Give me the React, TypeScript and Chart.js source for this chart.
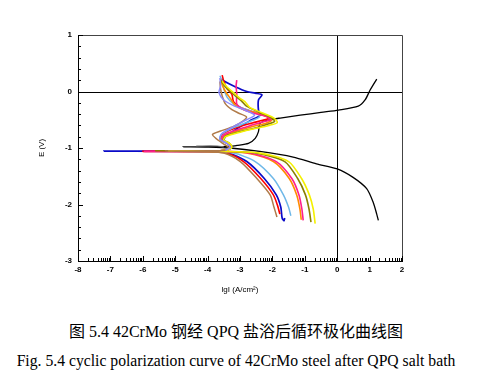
import React, { useEffect, useRef } from 'react';
import { Chart, registerables } from 'chart.js';

Chart.register(...registerables);

// Axis tick values
const xTickValues = [-8, -7, -6, -5, -4, -3, -2, -1, 0, 1, 2];
const yTickValues = [-3, -2, -1, 0, 1];

// Curves: [lgI, E]
const blackCurve: number[][] = [
  [1.27, -2.28], [1.22, -2.17], [1.11, -1.96], [0.91, -1.72], [0.49, -1.52], [0, -1.37],
  [-0.64, -1.28], [-1.36, -1.16], [-2.39, -1.06], [-3.3, -1.0], [-4.0, -0.985], [-4.76, -0.98],
  [-4.0, -0.978], [-3.3, -0.97], [-3.1, -0.955], [-2.74, -0.92], [-2.53, -0.83], [-2.43, -0.71],
  [-2.38, -0.56], [-2.07, -0.5], [-1.76, -0.47], [-1.14, -0.42], [-0.5, -0.37], [0.04, -0.33],
  [0.65, -0.26], [0.86, -0.15], [1.02, 0.03], [1.22, 0.22],
];
const grayCurve: number[][] = [[-4.35, -0.965], [-3.7, -0.965], [-3.5, -0.98]];

const brownCurve: number[][] = [
  [-1.86, -2.22], [-1.95, -2.05], [-2.07, -1.83], [-2.48, -1.54], [-2.99, -1.24], [-3.5, -1.09],
  [-4.0, -1.065], [-5.3, -1.055], [-4.0, -1.05], [-3.45, -1.04], [-3.35, -0.99], [-3.5, -0.93],
  [-3.72, -0.84], [-3.85, -0.76], [-3.6, -0.7], [-3.2, -0.62], [-2.9, -0.52], [-2.8, -0.45],
  [-3.05, -0.38], [-3.25, -0.32], [-3.45, -0.22], [-3.55, -0.08], [-3.6, 0.05], [-3.62, 0.18],
];
const redCurve: number[][] = [
  [-1.77, -2.17], [-1.84, -2.02], [-1.97, -1.83], [-2.36, -1.54], [-2.89, -1.24], [-3.42, -1.09],
  [-4.0, -1.065], [-6.0, -1.06], [-4.0, -1.05], [-3.45, -1.04], [-3.3, -0.99], [-3.38, -0.92],
  [-3.6, -0.86], [-3.55, -0.76], [-3.2, -0.66], [-2.7, -0.57], [-2.3, -0.51], [-2.08, -0.47],
  [-2.25, -0.42], [-2.6, -0.36], [-3.0, -0.28], [-3.2, -0.18], [-3.25, -0.05], [-3.4, 0.05],
  [-3.5, 0.18], [-3.55, 0.29],
];
const blueCurve: number[][] = [
  [-1.62, -2.24], [-1.64, -2.29], [-1.7, -2.24], [-1.74, -2.05], [-1.88, -1.83], [-2.25, -1.54],
  [-2.79, -1.24], [-3.35, -1.09], [-4.0, -1.06], [-7.2, -1.055], [-4.0, -1.05], [-3.45, -1.04],
  [-3.25, -0.99], [-3.35, -0.93], [-3.5, -0.88], [-3.45, -0.8], [-3.1, -0.66], [-2.7, -0.52],
  [-2.38, -0.42], [-2.43, -0.33], [-2.43, -0.15], [-2.32, -0.06], [-2.53, -0.03], [-2.79, 0.0],
  [-3.15, 0.085], [-3.51, 0.19], [-3.55, 0.22],
];
const lightBlueCurve: number[][] = [
  [-1.43, -2.2], [-1.5, -2.05], [-1.66, -1.83], [-1.97, -1.54], [-2.53, -1.24], [-3.2, -1.09],
  [-4.0, -1.06], [-5.0, -1.055], [-4.0, -1.05], [-3.45, -1.04], [-3.3, -0.99], [-3.4, -0.92],
  [-3.62, -0.86], [-3.58, -0.76], [-3.2, -0.64], [-2.75, -0.54], [-2.4, -0.45], [-2.5, -0.38],
  [-2.9, -0.3], [-3.2, -0.22], [-3.4, -0.1], [-3.5, 0.05], [-3.55, 0.18], [-3.62, 0.28],
];
const orangeCurve: number[][] = [
  [-1.11, -2.27], [-1.15, -2.08], [-1.25, -1.83], [-1.48, -1.54], [-1.97, -1.24], [-2.8, -1.09],
  [-3.6, -1.06], [-5.6, -1.055], [-4.0, -1.05], [-3.45, -1.04], [-3.28, -0.99], [-3.35, -0.92],
  [-3.58, -0.86], [-3.5, -0.78], [-3.05, -0.69], [-2.55, -0.61], [-2.2, -0.56], [-2.02, -0.51],
  [-2.15, -0.45], [-2.5, -0.38], [-2.9, -0.32], [-3.15, -0.24], [-3.3, -0.12], [-3.45, 0.0],
  [-3.55, 0.12], [-3.6, 0.22],
];
const pinkCurve: number[][] = [
  [-1.05, -2.28], [-1.09, -2.08], [-1.18, -1.83], [-1.4, -1.54], [-1.88, -1.24], [-2.7, -1.09],
  [-3.6, -1.06], [-5.95, -1.06], [-4.0, -1.05], [-3.45, -1.04], [-3.28, -0.98], [-3.36, -0.92],
  [-3.56, -0.85], [-3.5, -0.77], [-3.1, -0.68], [-2.6, -0.59], [-2.25, -0.53], [-2.05, -0.5],
  [-2.2, -0.44], [-2.6, -0.38], [-2.95, -0.3], [-3.1, -0.22], [-3.1, -0.05], [-3.12, 0.1],
  [-3.1, 0.2],
];
const oliveCurve: number[][] = [
  [-0.81, -2.31], [-0.87, -2.08], [-0.98, -1.83], [-1.22, -1.54], [-1.62, -1.24], [-2.5, -1.09],
  [-3.6, -1.06], [-5.6, -1.05], [-4.0, -1.05], [-3.45, -1.04], [-3.25, -0.99], [-3.32, -0.92],
  [-3.52, -0.85], [-3.45, -0.79], [-3.0, -0.71], [-2.5, -0.64], [-2.15, -0.58], [-1.93, -0.53],
  [-2.05, -0.46], [-2.4, -0.37], [-2.8, -0.26], [-2.95, -0.17], [-3.1, -0.1], [-3.3, 0.0],
  [-3.45, 0.08], [-3.6, 0.2],
];
const yellowCurve: number[][] = [
  [-0.68, -2.34], [-0.74, -2.08], [-0.86, -1.83], [-1.1, -1.54], [-1.5, -1.24], [-2.38, -1.09],
  [-3.6, -1.06], [-5.2, -1.05], [-4.0, -1.05], [-3.45, -1.04], [-3.25, -0.99], [-3.3, -0.93],
  [-3.5, -0.86], [-3.45, -0.8], [-3.0, -0.72], [-2.5, -0.65], [-2.1, -0.6], [-1.85, -0.55],
  [-1.95, -0.47], [-2.3, -0.38], [-2.7, -0.28], [-2.85, -0.18], [-3.0, -0.12], [-3.2, -0.02],
  [-3.4, 0.08], [-3.55, 0.18],
];
const lavenderCurve: number[][] = [
  [-3.45, -1.04], [-3.3, -0.99], [-3.4, -0.92], [-3.62, -0.84], [-3.55, -0.74], [-3.2, -0.62],
  [-2.8, -0.5], [-2.55, -0.42], [-2.8, -0.34], [-3.2, -0.25], [-3.5, -0.15], [-3.65, -0.02],
  [-3.6, 0.1], [-3.62, 0.24],
];

const seriesList = [
  { name: 'gray', data: grayCurve, color: '#707070', width: 1.2 },
  { name: 'lavender', data: lavenderCurve, color: '#8a8aff', width: 1.5 },
  { name: 'brown', data: brownCurve, color: '#b07a48', width: 1.5 },
  { name: 'yellow', data: yellowCurve, color: '#f4f000', width: 1.6 },
  { name: 'olive', data: oliveCurve, color: '#8a8000', width: 1.6 },
  { name: 'pink', data: pinkCurve, color: '#ff1f8a', width: 1.6 },
  { name: 'orange', data: orangeCurve, color: '#ff8a00', width: 1.6 },
  { name: 'lightblue', data: lightBlueCurve, color: '#6fb8e8', width: 1.5 },
  { name: 'red', data: redCurve, color: '#ff0000', width: 1.6 },
  { name: 'blue', data: blueCurve, color: '#0a0ac8', width: 1.7 },
  { name: 'black', data: blackCurve, color: '#000000', width: 1.3 },
];

const framePlugin = {
  id: 'framePlugin',
  beforeDatasetsDraw(chart: any) {
    const { ctx, chartArea, scales } = chart;
    const { left, right, top, bottom } = chartArea;
    const x0 = Math.round(scales.x.getPixelForValue(0)) + 0.5;
    const y0 = Math.round(scales.y.getPixelForValue(0)) + 0.5;
    ctx.save();
    ctx.strokeStyle = '#000';
    ctx.lineWidth = 1;
    ctx.beginPath();
    ctx.moveTo(x0, top);
    ctx.lineTo(x0, bottom);
    ctx.moveTo(left, y0);
    ctx.lineTo(right, y0);
    ctx.stroke();
    ctx.restore();
  },
  afterDatasetsDraw(chart: any) {
    const { ctx, chartArea, scales } = chart;
    const { left, right, top, bottom } = chartArea;
    ctx.save();
    ctx.lineWidth = 1;
    ctx.strokeStyle = '#444';
    ctx.beginPath();
    ctx.moveTo(left, top + 0.5);
    ctx.lineTo(right + 0.5, top + 0.5);
    ctx.lineTo(right + 0.5, bottom);
    ctx.stroke();
    ctx.strokeStyle = '#000';
    ctx.beginPath();
    ctx.moveTo(left + 0.5, top);
    ctx.lineTo(left + 0.5, bottom + 0.5);
    ctx.lineTo(right + 1, bottom + 0.5);
    // x ticks (log-style minor ticks)
    for (let i = 0; i < xTickValues.length; i++) {
      const d = xTickValues[i];
      const px = Math.round(scales.x.getPixelForValue(d)) + 0.5;
      ctx.moveTo(px, bottom);
      ctx.lineTo(px, bottom - 5);
      if (i < xTickValues.length - 1) {
        for (let k = 2; k <= 9; k++) {
          const mx = Math.round(scales.x.getPixelForValue(d + Math.log10(k))) + 0.5;
          ctx.moveTo(mx, bottom);
          ctx.lineTo(mx, bottom - 3);
        }
      }
    }
    // y ticks
    for (let j = 0; j <= 20; j++) {
      const v = -3 + j * 0.2;
      const py = Math.round(scales.y.getPixelForValue(v)) + 0.5;
      const len = j % 5 === 0 ? 5 : 3;
      ctx.moveTo(left, py);
      ctx.lineTo(left + len, py);
    }
    ctx.stroke();
    ctx.restore();
  },
};

export default function App() {
  const canvasRef = useRef<HTMLCanvasElement | null>(null);

  useEffect(() => {
    if (!canvasRef.current) return;
    const chart = new Chart(canvasRef.current, {
      type: 'scatter',
      data: {
        datasets: seriesList.map((s) => ({
          label: s.name,
          data: s.data.map((p) => ({ x: p[0], y: p[1] })),
          showLine: true,
          borderColor: s.color,
          backgroundColor: s.color,
          borderWidth: s.width,
          pointRadius: 0,
          pointHoverRadius: 0,
          tension: 0.25,
          fill: false,
        })),
      },
      options: {
        responsive: false,
        animation: false,
        events: [],
        layout: { padding: { top: 35, right: 84, left: 0, bottom: 0 } },
        plugins: { legend: { display: false }, tooltip: { enabled: false } },
        scales: {
          x: {
            type: 'linear',
            min: -8,
            max: 2,
            afterBuildTicks: (scale: any) => {
              scale.ticks = xTickValues.map((v) => ({ value: v }));
            },
            afterFit: (scale: any) => {
              scale.height = 39;
            },
            grid: { display: false, drawTicks: false },
            border: { display: false },
            ticks: {
              padding: 4,
              color: '#000',
              font: { family: 'Liberation Sans', size: 8, weight: 'bold' },
              maxRotation: 0,
              autoSkip: false,
            },
            title: {
              display: true,
              text: 'lgI (A/cm²)',
              color: '#000',
              font: { family: 'Liberation Sans', size: 8 },
              padding: { top: 0, bottom: 5 },
            },
          },
          y: {
            type: 'linear',
            min: -3,
            max: 1,
            afterBuildTicks: (scale: any) => {
              scale.ticks = yTickValues.map((v) => ({ value: v }));
            },
            afterFit: (scale: any) => {
              scale.width = 78;
            },
            grid: { display: false, drawTicks: false },
            border: { display: false },
            ticks: {
              padding: 6,
              color: '#000',
              font: { family: 'Liberation Sans', size: 8, weight: 'bold' },
              autoSkip: false,
            },
            title: {
              display: true,
              text: 'E (V)',
              color: '#000',
              font: { family: 'Liberation Sans', size: 8 },
              padding: { top: 37, bottom: 0 },
            },
          },
        },
      },
      plugins: [framePlugin],
    } as any);
    return () => chart.destroy();
  }, []);

  const serif = "'Liberation Serif', 'Noto Sans CJK SC', serif";
  return (
    <div style={{ position: 'absolute', left: 0, top: 0, width: 486, height: 379, background: '#fff' }}>
      <canvas ref={canvasRef} width={486} height={300} style={{ position: 'absolute', left: 0, top: 0 }} />
      <div
        style={{
          position: 'absolute', left: 0, top: 322, width: 472, textAlign: 'center',
          fontFamily: serif, fontSize: 16, lineHeight: '20px', color: '#000', whiteSpace: 'nowrap',
        }}
      >
        图 5.4 42CrMo 钢经 QPQ 盐浴后循环极化曲线图
      </div>
      <div
        style={{
          position: 'absolute', left: 0, top: 351, width: 472, textAlign: 'center',
          fontFamily: serif, fontSize: 15.7, lineHeight: '20px', color: '#000', whiteSpace: 'nowrap',
        }}
      >
        Fig. 5.4 cyclic polarization curve of 42CrMo steel after QPQ salt bath
      </div>
    </div>
  );
}
